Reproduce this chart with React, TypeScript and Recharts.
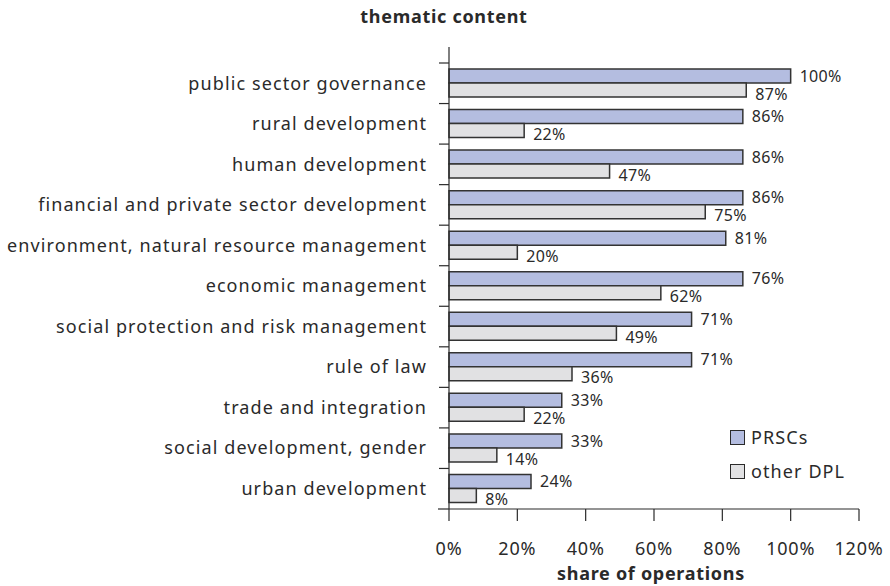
import { BarChart, Bar, XAxis, YAxis, LabelList } from 'recharts'

const categories = [
  'public sector governance',
  'rural development',
  'human development',
  'financial and private sector development',
  'environment, natural resource management',
  'economic management',
  'social protection and risk management',
  'rule of law',
  'trade and integration',
  'social development, gender',
  'urban development',
]

// bar lengths as drawn (economic management is drawn at ~86 but printed 76%)
const prscValues = [100, 86, 86, 86, 81, 86, 71, 71, 33, 33, 24]
const prscLabels = ['100%', '86%', '86%', '86%', '81%', '76%', '71%', '71%', '33%', '33%', '24%']
const otherValues = [87, 22, 47, 75, 20, 62, 49, 36, 22, 14, 8]
const otherLabels = ['87%', '22%', '47%', '75%', '20%', '62%', '49%', '36%', '22%', '14%', '8%']

const xTicks = [0, 20, 40, 60, 80, 100, 120]

const data = categories.map((name, i) => ({
  name,
  prsc: prscValues[i],
  other: otherValues[i],
}))

const FONT = '"Noto Sans", Lato, sans-serif'
const INK = '#2a2a2a'
const PRSC_FILL = '#b4bde0'
const OTHER_FILL = '#e1e1e3'

const W = 890
const H = 586
const TOP = 63
const BOTTOM = 77
const PLOT_H = H - TOP - BOTTOM
const BAND = PLOT_H / categories.length

function CategoryTick(props: any) {
  const { x, y, payload, index } = props
  const top = y - BAND / 2
  return (
    <g>
      <line x1={x - 10} x2={x} y1={top} y2={top} stroke={INK} strokeWidth={1.2} />
      {index === 0 && <line x1={x} x2={x} y1={top - 16} y2={top} stroke={INK} strokeWidth={1.2} />}
      {index === categories.length - 1 && (
        <line x1={x - 11} x2={x} y1={y + BAND / 2} y2={y + BAND / 2} stroke={INK} strokeWidth={1.2} />
      )}
      <text
        x={x - 22}
        y={y}
        dy="0.35em"
        textAnchor="end"
        fill={INK}
        fontSize={18}
        letterSpacing={1.1}
        fontFamily={FONT}
      >
        {payload.value}
      </text>
    </g>
  )
}

function makeLabel(labels: string[], shift: number) {
  return (props: any) => {
    const { x, y, width, height, index } = props
    return (
      <text
        x={x + width + 9}
        y={y + height / 2 + shift}
        dy="0.35em"
        fill={INK}
        fontSize={16}
        letterSpacing={0.3}
        fontFamily={FONT}
      >
        {labels[index]}
      </text>
    )
  }
}

function LegendBox() {
  const items = [
    { label: 'PRSCs', fill: PRSC_FILL },
    { label: 'other DPL', fill: OTHER_FILL },
  ]
  return (
    <div
      style={{
        position: 'absolute', left: 730, top: 420,
        fontFamily: FONT, fontSize: 18, letterSpacing: 1.1, color: INK,
      }}
    >
      {items.map((it) => (
        <div key={it.label} style={{ display: 'flex', alignItems: 'center', height: 34 }}>
          <span
            style={{
              display: 'inline-block',
              width: 13,
              height: 13,
              background: it.fill,
              border: `1px solid ${INK}`,
              marginRight: 6,
            }}
          />
          {it.label}
        </div>
      ))}
    </div>
  )
}

const titleStyle = {
  position: 'absolute' as const,
  width: 240,
  textAlign: 'center' as const,
  fontFamily: FONT,
  fontWeight: 700,
  fontSize: 18,
  letterSpacing: 0.7,
  color: INK,
}

export default function App() {
  return (
    <div style={{ position: 'absolute', left: 0, top: 0, width: W, height: H, background: '#fff' }}>
      <div style={{ ...titleStyle, left: 324, top: 4 }}>thematic content</div>
      <div style={{ ...titleStyle, left: 531, top: 561 }}>share of operations</div>
      <BarChart
        width={W}
        height={H}
        data={data}
        layout="vertical"
        margin={{ top: TOP, right: 31, bottom: 0, left: 0 }}
        barCategoryGap={6}
        barGap={0}
      >
        <XAxis
          type="number"
          domain={[0, 120]}
          ticks={xTicks}
          tickFormatter={(v) => `${v}%`}
          height={BOTTOM}
          tickSize={12}
          tickMargin={21}
          axisLine={{ stroke: INK, strokeWidth: 1.2 }}
          tickLine={{ stroke: INK, strokeWidth: 1.2 }}
          tick={{ fill: INK, fontSize: 18, letterSpacing: 0.8, fontFamily: FONT }}
          interval={0}
        />
        <YAxis
          type="category"
          dataKey="name"
          width={449}
          tickSize={0}
          tickMargin={0}
          tickLine={false}
          axisLine={{ stroke: INK, strokeWidth: 1.2 }}
          tick={<CategoryTick />}
          interval={0}
        />
        <Bar dataKey="prsc" name="PRSCs" fill={PRSC_FILL} stroke="#333" strokeWidth={1.5} isAnimationActive={false}>
          <LabelList dataKey="prsc" content={makeLabel(prscLabels, 0)} />
        </Bar>
        <Bar dataKey="other" name="other DPL" fill={OTHER_FILL} stroke="#333" strokeWidth={1.5} isAnimationActive={false}>
          <LabelList dataKey="other" content={makeLabel(otherLabels, 4)} />
        </Bar>
      </BarChart>
      <LegendBox />
    </div>
  )
}
